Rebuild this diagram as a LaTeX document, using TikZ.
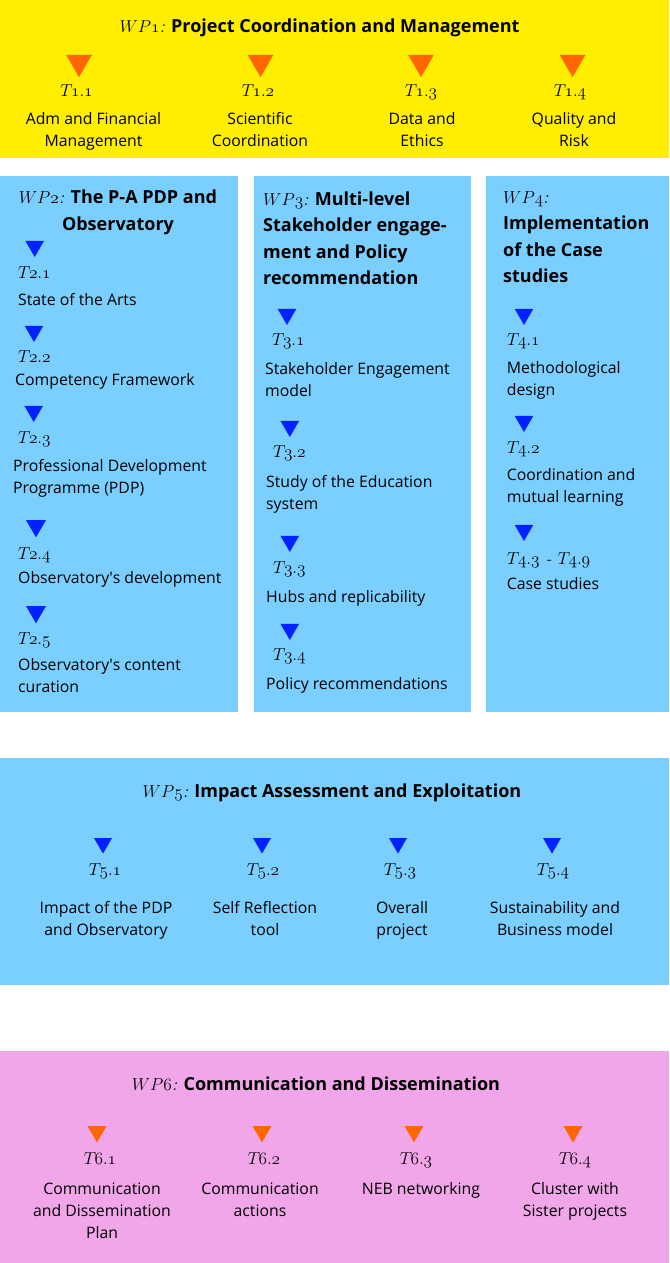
\documentclass[tikz,border=0pt]{standalone}
\usepackage{fontspec}
\setsansfont{Open Sans}
\usetikzlibrary{shapes.geometric, positioning}
\definecolor{wpyellow}{RGB}{255, 238, 0}
\definecolor{wpblue}{RGB}{122, 207, 255}
\definecolor{wppink}{RGB}{242, 166, 234}
\definecolor{triorange}{RGB}{255, 102, 0}
\definecolor{triblue}{RGB}{0, 34, 255}

\newcommand{\wpname}[1]{{\rmfamily\mdseries$\mathnormal{WP#1}$\itshape:}}
\newcommand{\taskname}[1]{$\mathnormal{T\mkern-1.5mu#1}$}

\begin{document}
\begin{tikzpicture}[
    x=1pt, y=-1pt,
    % multi-line nodes: base = baseline of the last line
    wptitle/.style={font=\sffamily\bfseries\fontsize{18}{26.5}\selectfont, inner sep=0pt, anchor=base},
    task/.style={font=\rmfamily\itshape\fontsize{17.28}{20}\selectfont, inner sep=0pt, anchor=base},
    desc/.style={font=\sffamily\fontsize{15.8}{22}\selectfont, inner sep=0pt, anchor=base, align=center},
    tri/.style={regular polygon, regular polygon sides=3, shape border rotate=180, inner sep=0pt, minimum size=#1},
    orangetri/.style={tri=29.6pt, fill=triorange},
    pinktri/.style={tri=21.9pt, fill=triorange},
    bluetri/.style={tri=21.4pt, fill=triblue}
]
\useasboundingbox (0,0) rectangle (669,1263);

% Work package boxes
\fill[wpyellow] (0,0) rectangle (669,158);
\fill[wpblue] (0,176) rectangle (238,712);
\fill[wpblue] (254,176) rectangle (471,712);
\fill[wpblue] (486,176) rectangle (669,712);
\fill[wpblue] (0,758) rectangle (669,985);
\fill[wppink] (0,1051) rectangle (669,1263);

% WP1
\node[wptitle] (wp1) at (319.5,33) {\wpname{1} Project Coordination and Management};
\foreach \n/\x/\tx/\dx/\txt in {1/79/76.5/93.5/{Adm and Financial\\Management},
    2/260.5/258/260/{Scientific\\Coordination},
    3/421/421/422/{Data and\\Ethics},
    4/572.5/570/574/{Quality and\\Risk}} {
  \node[orangetri] (m1\n) at (\x,62.4) {};
  \node[task] (t1\n) at (\tx,96) {\taskname{1.\n}};
  \node[desc] (d1\n) at (\dx,146.5) {\txt};
}

% WP2
\node[wptitle, align=center] (wp2) at (118,230) {\wpname{2} The P-A PDP and\\Observatory};
\node[bluetri] (m21) at (34.7,246.3) {};
\node[task, anchor=base west] (t21) at (18,278) {\taskname{2.1}};
\node[desc, anchor=base west, align=left] (d21) at (18,305.5) {State of the Arts};
\node[bluetri] (m22) at (34,331.3) {};
\node[task, anchor=base west] (t22) at (18,362) {\taskname{2.2}};
\node[desc, anchor=base west, align=left] (d22) at (15,385) {Competency Framework};
\node[bluetri] (m23) at (33.7,411.3) {};
\node[task, anchor=base west] (t23) at (18,443) {\taskname{2.3}};
\node[desc, anchor=base west, align=left] (d23) at (13,493) {Professional Development\\Programme (PDP)};
\node[bluetri, tri=23.1pt] (m24) at (36,525.8) {};
\node[task, anchor=base west] (t24) at (18,559) {\taskname{2.4}};
\node[desc, anchor=base west, align=left] (d24) at (18,583) {Observatory\textquotesingle s development};
\node[bluetri, tri=23.1pt] (m25) at (36,611.8) {};
\node[task, anchor=base west] (t25) at (18,644) {\taskname{2.5}};
\node[desc, anchor=base west, align=left] (d25) at (18,692) {Observatory\textquotesingle s content\\curation};

% WP3
\node[wptitle, anchor=base west, align=left] (wp3) at (263,284.5) {\wpname{3} Multi-level\\Stakeholder engage-\\ment and Policy\\recommendation};
\node[bluetri] (m31) at (287,314.3) {};
\node[task, anchor=base west] (t31) at (272,345) {\taskname{3.1}};
\node[desc, anchor=base west, align=left] (d31) at (265,396) {Stakeholder Engagement\\model};
\node[bluetri] (m32) at (289.8,426.3) {};
\node[task, anchor=base west] (t32) at (273,457) {\taskname{3.2}};
\node[desc, anchor=base west, align=left] (d32) at (266,509.5) {Study of the Education\\system};
\node[bluetri] (m33) at (289.8,541.3) {};
\node[task, anchor=base west] (t33) at (273,573) {\taskname{3.3}};
\node[desc, anchor=base west, align=left] (d33) at (266,602) {Hubs and replicability};
\node[bluetri] (m34) at (289.8,629.3) {};
\node[task, anchor=base west] (t34) at (273,660) {\taskname{3.4}};
\node[desc, anchor=base west, align=left] (d34) at (266,689) {Policy recommendations};

% WP4
\node[wptitle, anchor=base west, align=left] (wp4) at (503,282.5) {\wpname{4}\\Implementation\\of the Case\\studies};
\node[bluetri] (m41) at (524,314.3) {};
\node[task, anchor=base west] (t41) at (507,345) {\taskname{4.1}};
\node[desc, anchor=base west, align=left] (d41) at (506.7,395) {Methodological\\design};
\node[bluetri] (m42) at (524,421.3) {};
\node[task, anchor=base west] (t42) at (507,453) {\taskname{4.2}};
\node[desc, anchor=base west, align=left] (d42) at (506.7,502) {Coordination and\\mutual learning};
\node[bluetri] (m43) at (524,530.3) {};
\node[task, anchor=base west] (t43) at (507,564) {\taskname{4.3} - \taskname{4.9}};
\node[desc, anchor=base west, align=left] (d43) at (506.7,589) {Case studies};

% WP5
\node[wptitle] (wp5) at (332,797) {\wpname{5} Impact Assessment and Exploitation};
\foreach \n/\x/\tx/\dx/\txt in {1/103/105/106/{Impact of the PDP\\and Observatory},
    2/262/263/265/{Self Reflection\\tool},
    3/398/400/402/{Overall\\project},
    4/552/553/555/{Sustainability and\\Business model}} {
  \node[bluetri, tri=20.8pt] (m5\n) at (\x,843.2) {};
  \node[task] (t5\n) at (\tx,875) {\taskname{5.\n}};
  \node[desc] (d5\n) at (\dx,935) {\txt};
}

% WP6
\node[wptitle] (wp6) at (316,1090) {\wpname{6} Communication and Dissemination};
\foreach \n/\x/\tx/\dx/\dy/\txt in {1/97/100/102/1238/{Communication\\and Dissemination\\Plan},
    2/262/264/260/1216/{Communication\\actions},
    3/414/416/421/1194/{NEB networking},
    4/573/575/575/1216/{Cluster with\\Sister projects}} {
  \node[pinktri] (m6\n) at (\x,1131.5) {};
  \node[task] (t6\n) at (\tx,1164) {\taskname{6.\n}};
  \node[desc] (d6\n) at (\dx,\dy) {\txt};
}

\end{tikzpicture}
\end{document}
